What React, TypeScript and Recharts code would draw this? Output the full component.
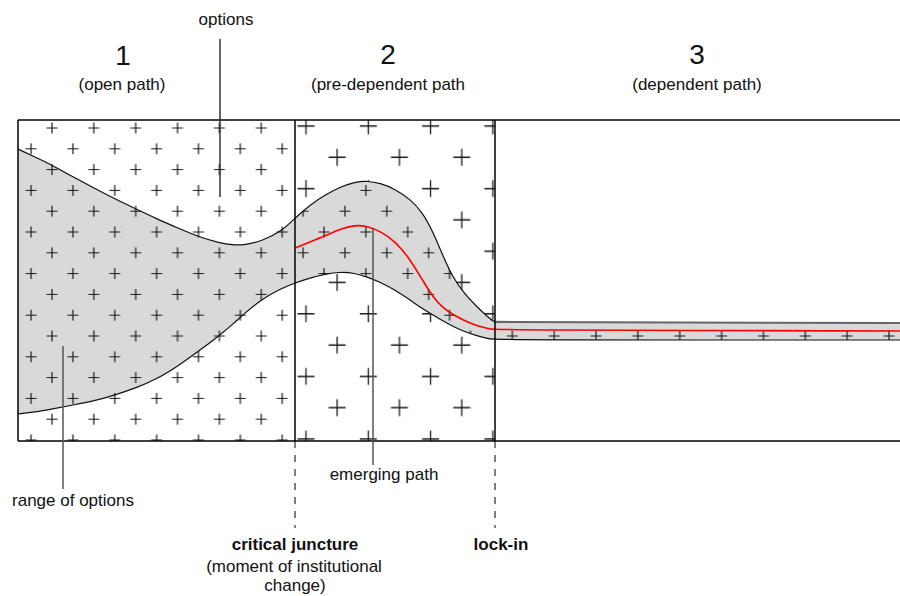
import React from 'react';
import { ComposedChart, Area, Line, XAxis, YAxis, ReferenceLine } from 'recharts';

// time axis (0 = start of open path) and option-space values (0 = bottom of frame)
const timeSteps = [0, 17, 34, 55, 76, 97, 118, 139, 160, 181, 202, 214, 227, 244, 264, 277, 292, 307, 322, 337, 349, 362, 377, 392, 405, 415, 425, 434, 445, 459, 472, 477, 882];
const upperBound = [292, 284, 276, 264, 253, 242, 232, 222, 213, 204, 198, 196, 196, 200, 210, 223, 236, 246, 254, 259, 260, 258, 252, 242, 228, 209, 185, 165, 149, 134, 122, 119, 118];
const lowerBound = [27, 29, 32, 36, 40, 46, 53, 62, 75, 90, 106, 116, 128, 142, 153, 158, 163, 167, 169, 168, 164, 159, 151, 141, 132, 126, 120, 115, 110, 105, 102, 101, 101];
const emergingPath = [null, null, null, null, null, null, null, null, null, null, null, null, null, null, null, 193, 199, 205, 212, 216, 215, 210, 200, 182, 160, 144, 133, 127, 121, 115, 112, 111, 110];

const timeEnd = 882;
const optionSpace = 321;
const criticalJuncture = 277;
const lockIn = 477;

const phaseNumbers = ['1', '2', '3'];
const phaseNames = ['(open path)', '(pre-dependent path', '(dependent path)'];

const rows = timeSteps.map((t, i) => ({
  t,
  band: [lowerBound[i], upperBound[i]],
  upper: t <= lockIn ? upperBound[i] : null,
  upperLocked: t >= lockIn ? upperBound[i] : null,
  lower: lowerBound[i],
  path: emergingPath[i],
  open: t <= criticalJuncture ? [0, optionSpace] : null,
  pre: t >= criticalJuncture && t <= lockIn ? [0, optionSpace] : null,
}));

const FONT = '"Liberation Sans", Arial, Helvetica, sans-serif';

export default function App() {
  const txt = { fontFamily: FONT, fill: '#111', textAnchor: 'middle' as const };
  return (
    <div style={{ position: 'absolute', left: 0, top: 0, width: 900, height: 596, background: '#fff' }}>
      <ComposedChart width={900} height={596} data={rows} margin={{ top: 120, right: 0, bottom: 155, left: 18 }}>
        <defs>
          <pattern id="smallPlus" patternUnits="userSpaceOnUse" x={31.075} y={117.6} width={41.85} height={41.6}>
            <path d="M15.425 10.4h11M20.925 4.9v11M0 31.2h5.5M36.35 31.2h5.5M0 25.7v11M41.85 25.7v11" stroke="#1a1a1a" strokeWidth={1.2} fill="none" />
          </pattern>
          <pattern id="bigPlus" patternUnits="userSpaceOnUse" x={274.85} y={110.35} width={62.3} height={62.6}>
            <path d="M22.65 15.65h17M31.15 7.15v17M0 46.95h8.5M53.8 46.95h8.5M0 38.45v17M62.3 38.45v17" stroke="#1a1a1a" strokeWidth={1.3} fill="none" />
          </pattern>
        </defs>
        <XAxis type="number" dataKey="t" domain={[0, timeEnd]} hide />
        <YAxis type="number" domain={[0, optionSpace]} hide />

        <Area dataKey="open" type="linear" fill="url(#smallPlus)" fillOpacity={1} stroke="none" isAnimationActive={false} />
        <Area dataKey="pre" type="linear" fill="url(#bigPlus)" fillOpacity={1} stroke="none" isAnimationActive={false} />
        <Area dataKey="band" type="basis" fill="#d9d9d9" fillOpacity={1} stroke="none" isAnimationActive={false} />
        <Area dataKey="band" type="basis" fill="url(#smallPlus)" fillOpacity={1} stroke="none" isAnimationActive={false} />

        <Line dataKey="upper" type="basis" stroke="#111" strokeWidth={1.2} dot={false} isAnimationActive={false} />
        <Line dataKey="upperLocked" type="linear" stroke="#666" strokeWidth={2} dot={false} isAnimationActive={false} />
        <Line dataKey="lower" type="basis" stroke="#111" strokeWidth={1.2} dot={false} isAnimationActive={false} />
        <Line dataKey="path" type="basis" stroke="#ff0000" strokeWidth={1.6} dot={false} isAnimationActive={false} />

        <ReferenceLine y={optionSpace} stroke="#000" strokeWidth={1.5} />
        <ReferenceLine y={0} stroke="#000" strokeWidth={1.5} />
        <ReferenceLine x={0} stroke="#000" strokeWidth={1.5} />
        <ReferenceLine x={criticalJuncture} stroke="#000" strokeWidth={1.5} />
        <ReferenceLine x={lockIn} stroke="#000" strokeWidth={1.5} />

        <ReferenceLine segment={[{ x: criticalJuncture, y: 0 }, { x: criticalJuncture, y: -87 }]} ifOverflow="visible" stroke="#000" strokeWidth={1} strokeDasharray="7 7" />
        <ReferenceLine segment={[{ x: lockIn, y: 0 }, { x: lockIn, y: -87 }]} ifOverflow="visible" stroke="#000" strokeWidth={1} strokeDasharray="7 7" />

        <ReferenceLine segment={[{ x: 202, y: 244 }, { x: 202, y: 402 }]} ifOverflow="visible" stroke="#333" strokeWidth={1.5} />
        <ReferenceLine segment={[{ x: 45, y: 95 }, { x: 45, y: -48 }]} ifOverflow="visible" stroke="#555" strokeWidth={1.5} />
        <ReferenceLine segment={[{ x: 355, y: 212 }, { x: 355, y: -24 }]} ifOverflow="visible" stroke="#555" strokeWidth={1.5} />

        <text x={226} y={25} fontSize={17} {...txt}>options</text>
        <text x={123} y={65} fontSize={28} {...txt}>{phaseNumbers[0]}</text>
        <text x={122} y={90} fontSize={17} {...txt}>{phaseNames[0]}</text>
        <text x={388} y={64} fontSize={28} {...txt}>{phaseNumbers[1]}</text>
        <text x={388} y={90} fontSize={17} {...txt}>{phaseNames[1]}</text>
        <text x={697} y={64} fontSize={28} {...txt}>{phaseNumbers[2]}</text>
        <text x={697} y={90} fontSize={17} {...txt}>{phaseNames[2]}</text>
        <text x={73} y={506} fontSize={17} {...txt}>range of options</text>
        <text x={384} y={480} fontSize={17} {...txt}>emerging path</text>
        <text x={295} y={550} fontSize={17} fontWeight="bold" {...txt}>critical juncture</text>
        <text x={294} y={572} fontSize={17} {...txt}>(moment of institutional</text>
        <text x={295} y={591} fontSize={17} {...txt}>change)</text>
        <text x={501} y={550} fontSize={17} fontWeight="bold" {...txt}>lock-in</text>
      </ComposedChart>
    </div>
  );
}
